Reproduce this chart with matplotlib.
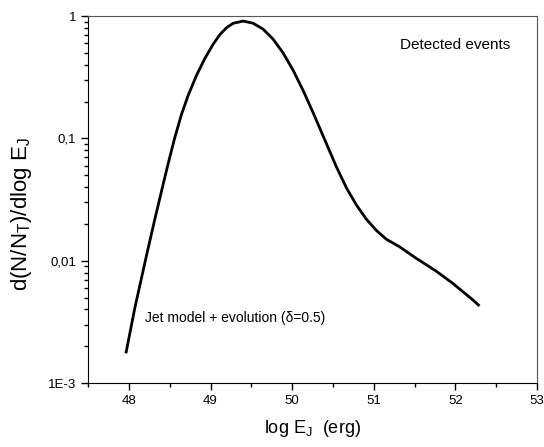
import matplotlib
matplotlib.use("Agg")
import matplotlib.pyplot as plt
from matplotlib.ticker import FixedLocator, LogLocator, NullFormatter, MultipleLocator

plt.rcParams['font.family'] = ['Liberation Sans', 'DejaVu Sans']
plt.rcParams['mathtext.fontset'] = 'custom'
plt.rcParams['mathtext.rm'] = 'Liberation Sans'
plt.rcParams['mathtext.it'] = 'Liberation Sans'

log_e = [47.963, 48.073, 48.217, 48.318, 48.379, 48.441, 48.502, 48.563, 48.645,
         48.726, 48.829, 48.930, 49.032, 49.114, 49.196, 49.277, 49.399, 49.521,
         49.644, 49.766, 49.889, 50.011, 50.133, 50.256, 50.378, 50.542, 50.665,
         50.787, 50.909, 51.032, 51.154, 51.317, 51.521, 51.766, 51.969, 52.214,
         52.296]
dn = [0.00175, 0.00413, 0.01117, 0.02193, 0.0325, 0.0485, 0.0708, 0.1021, 0.1578,
      0.2249, 0.3289, 0.4498, 0.5888, 0.7047, 0.8035, 0.873, 0.910, 0.875,
      0.782, 0.649, 0.500, 0.362, 0.248, 0.163, 0.1054, 0.0587, 0.0395,
      0.0286, 0.0219, 0.0177, 0.0150, 0.0130, 0.01047, 0.00822, 0.00653, 0.00479,
      0.00427]

y_ticks = [1e-3, 1e-2, 1e-1, 1]
y_labels = ['1E-3', '0,01', '0,1', '1']
x_ticks = [48, 49, 50, 51, 52, 53]

fig = plt.figure(figsize=(5.44, 4.47), dpi=100)
ax = fig.add_axes([0.162, 0.143, 0.825, 0.821])
ax.plot(log_e, dn, color='black', lw=2.0, solid_joinstyle='round', solid_capstyle='butt')
ax.set_yscale('log')
ax.set_xlim(47.5, 53)
ax.set_ylim(1e-3, 1)
ax.yaxis.set_major_locator(FixedLocator(y_ticks))
ax.set_yticklabels(y_labels)
ax.yaxis.set_minor_locator(LogLocator(base=10, subs=range(2, 10)))
ax.yaxis.set_minor_formatter(NullFormatter())
ax.set_xticks(x_ticks)
ax.set_xticklabels([str(t) for t in x_ticks])
ax.xaxis.set_minor_locator(MultipleLocator(0.5))
ax.tick_params(which='major', direction='out', length=5, width=1, labelsize=9.5, colors='black')
ax.tick_params(which='minor', direction='out', length=3, width=1)
for s in ['top', 'right']:
    ax.spines[s].set_color('#555555')
for s in ['left', 'bottom']:
    ax.spines[s].set_color('black')

ax.set_xlabel(r'log E$_\mathregular{J}$  (erg)', fontsize=13, labelpad=8)
ax.set_ylabel(r'd(N/N$_\mathregular{T}$)/dlog E$_\mathregular{J}$', fontsize=16)
ax.yaxis.set_label_coords(-0.12, 0.46)

ax.text(51.32, 0.58, 'Detected events', fontsize=11, va='center', ha='left')
ax.text(48.20, 0.0034, 'Jet model + evolution (\u03b4=0.5)', fontsize=10, va='center', ha='left')

fig.savefig('out.png', dpi=100)
